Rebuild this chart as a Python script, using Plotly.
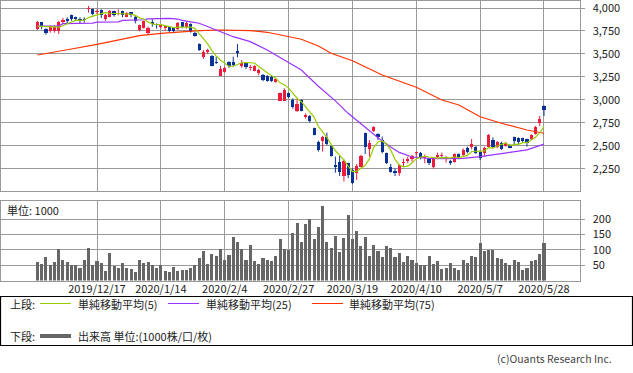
import pandas as pd
import plotly.graph_objects as go

# ---------------- data ----------------
holidays = ["2019-12-31", "2020-01-01", "2020-01-02", "2020-01-03", "2020-01-13",
            "2020-02-11", "2020-02-24", "2020-03-20", "2020-04-29", "2020-05-04",
            "2020-05-05", "2020-05-06"]
dates = [f"{d.year}/{d.month}/{d.day}" for d in
         pd.bdate_range("2019-11-27", "2020-05-28", freq="C", holidays=holidays)]

tick_labels = ["2019/12/17", "2020/1/14", "2020/2/4", "2020/2/27",
               "2020/3/19", "2020/4/10", "2020/5/7", "2020/5/28"]

open_ = [3772, 3844, 3772, 3750, 3750, 3754, 3848, 3877, 3920, 3899,
         3880, 3880, 3986, 3986, 3953, 3978, 3880, 3906, 3967, 3931,
         3967, 3906, 3953, 3906, 3761, 3786, 3732, 3848, 3826, 3797,
         3779, 3797, 3783, 3768, 3844, 3797, 3823, 3732, 3609, 3464,
         3518, 3482, 3409, 3265, 3308, 3413, 3413, 3533, 3370, 3406,
         3344, 3315, 3297, 3272, 3265, 3254, 3196, 2993, 2993, 3073,
         3000, 2884, 3000, 2819, 2826, 2692, 2547, 2558, 2594, 2500,
         2290, 2330, 2174, 2312, 2239, 2203, 2275, 2638, 2471, 2660,
         2631, 2565, 2420, 2268, 2232, 2203, 2312, 2341, 2355, 2420,
         2424, 2370, 2355, 2275, 2384, 2391, 2366, 2333, 2326, 2413,
         2399, 2482, 2493, 2493, 2439, 2420, 2493, 2565, 2493, 2536,
         2500, 2511, 2594, 2583, 2583, 2573, 2573, 2631, 2746, 2935]
high = [3859, 3848, 3779, 3812, 3812, 3859, 3891, 3899, 3928, 3906,
        3899, 3899, 4022, 3993, 3986, 3986, 3935, 3978, 3971, 3986,
        3971, 3957, 3957, 3913, 3819, 3862, 3797, 3877, 3833, 3826,
        3815, 3804, 3790, 3848, 3848, 3848, 3833, 3743, 3616, 3544,
        3558, 3489, 3471, 3370, 3362, 3420, 3471, 3609, 3435, 3413,
        3381, 3377, 3341, 3283, 3272, 3261, 3236, 3080, 3127, 3080,
        3018, 3007, 3007, 2855, 2837, 2699, 2558, 2609, 2645, 2507,
        2384, 2391, 2355, 2319, 2257, 2304, 2406, 2645, 2565, 2714,
        2638, 2602, 2428, 2304, 2257, 2304, 2362, 2384, 2402, 2439,
        2435, 2406, 2366, 2370, 2428, 2428, 2391, 2348, 2420, 2420,
        2475, 2493, 2576, 2500, 2449, 2493, 2631, 2594, 2555, 2547,
        2544, 2522, 2602, 2594, 2591, 2580, 2627, 2717, 2826, 2942]
low = [3761, 3768, 3710, 3732, 3732, 3717, 3826, 3833, 3862, 3859,
       3833, 3841, 3949, 3920, 3935, 3891, 3862, 3899, 3906, 3920,
       3899, 3899, 3899, 3833, 3746, 3775, 3710, 3797, 3775, 3775,
       3750, 3739, 3732, 3761, 3779, 3775, 3732, 3688, 3533, 3446,
       3500, 3366, 3391, 3261, 3297, 3348, 3362, 3464, 3348, 3337,
       3319, 3312, 3268, 3203, 3199, 3196, 3188, 2993, 2993, 3022,
       2906, 2870, 2877, 2797, 2754, 2616, 2439, 2439, 2511, 2384,
       2210, 2174, 2113, 2150, 2087, 2131, 2268, 2413, 2384, 2652,
       2565, 2420, 2304, 2210, 2174, 2174, 2275, 2312, 2330, 2384,
       2355, 2312, 2294, 2257, 2355, 2377, 2319, 2294, 2319, 2355,
       2384, 2420, 2464, 2413, 2348, 2384, 2486, 2475, 2475, 2457,
       2493, 2475, 2522, 2522, 2536, 2493, 2565, 2623, 2717, 2826]
close = [3844, 3797, 3732, 3797, 3790, 3844, 3873, 3855, 3880, 3877,
         3859, 3866, 4000, 3935, 3967, 3924, 3924, 3967, 3924, 3949,
         3924, 3942, 3924, 3862, 3812, 3859, 3786, 3823, 3812, 3815,
         3804, 3750, 3754, 3833, 3797, 3833, 3736, 3696, 3544, 3525,
         3544, 3373, 3399, 3333, 3352, 3370, 3381, 3515, 3406, 3362,
         3355, 3370, 3326, 3217, 3207, 3210, 3225, 3073, 3109, 3029,
         2928, 2957, 2884, 2833, 2768, 2623, 2457, 2594, 2522, 2391,
         2275, 2221, 2333, 2185, 2094, 2286, 2391, 2493, 2536, 2707,
         2594, 2439, 2319, 2221, 2203, 2290, 2330, 2362, 2391, 2435,
         2370, 2391, 2312, 2362, 2399, 2402, 2373, 2312, 2413, 2370,
         2457, 2439, 2522, 2428, 2366, 2475, 2620, 2493, 2547, 2464,
         2536, 2482, 2558, 2547, 2558, 2536, 2620, 2710, 2794, 2891]
volume = [61, 54, 77, 50, 61, 104, 66, 61, 49, 49,
          40, 67, 107, 49, 64, 58, 31, 90, 48, 42,
          58, 41, 38, 29, 67, 58, 61, 49, 41, 49,
          31, 28, 45, 31, 35, 35, 41, 49, 75, 97,
          54, 86, 80, 104, 67, 84, 141, 127, 104, 67,
          117, 64, 54, 74, 67, 64, 80, 136, 104, 100,
          156, 186, 127, 183, 201, 136, 173, 242, 127, 107,
          146, 94, 139, 215, 136, 163, 113, 143, 80, 117,
          97, 77, 113, 107, 77, 90, 61, 80, 67, 58,
          49, 49, 80, 54, 64, 38, 41, 58, 41, 35,
          67, 58, 80, 77, 123, 97, 100, 100, 74, 71,
          58, 51, 67, 61, 35, 41, 64, 67, 87, 123]
ma5 = [3804, 3800, 3797, 3795, 3792, 3792, 3807, 3832, 3848, 3866,
       3869, 3867, 3896, 3907, 3925, 3938, 3950, 3943, 3941, 3938,
       3938, 3941, 3933, 3920, 3893, 3880, 3849, 3828, 3818, 3819,
       3808, 3801, 3787, 3791, 3788, 3793, 3791, 3779, 3721, 3667,
       3609, 3536, 3477, 3435, 3400, 3365, 3367, 3390, 3405, 3407,
       3404, 3402, 3364, 3326, 3295, 3266, 3237, 3186, 3165, 3129,
       3073, 3019, 2981, 2926, 2874, 2813, 2713, 2655, 2593, 2517,
       2448, 2401, 2348, 2281, 2222, 2224, 2258, 2290, 2360, 2483,
       2544, 2554, 2519, 2456, 2355, 2294, 2273, 2281, 2315, 2362,
       2378, 2390, 2380, 2374, 2367, 2373, 2370, 2370, 2380, 2374,
       2385, 2398, 2440, 2443, 2442, 2446, 2482, 2476, 2500, 2520,
       2532, 2504, 2517, 2517, 2536, 2536, 2564, 2594, 2644, 2710]
ma25_idx = [0, 5, 6, 13, 14, 19, 20, 25, 26, 31, 33, 34, 36, 38, 42, 46, 50, 54,
            58, 62, 66, 70, 73, 77, 80, 83, 85, 88, 92, 96, 100, 104, 109, 115, 119]
ma25_val = [3804, 3804, 3830, 3836, 3846, 3850, 3866, 3872, 3882, 3888, 3880, 3866,
            3850, 3834, 3761, 3688, 3634, 3543, 3435, 3326, 3150, 2990, 2855, 2700,
            2590, 2490, 2430, 2380, 2366, 2362, 2366, 2384, 2420, 2457, 2520]
ma75_idx = [0, 4, 8, 14, 19, 24, 29, 34, 38, 43, 48, 50, 54, 59, 62, 66, 69, 74,
            81, 89, 95, 99, 104, 109, 115, 119]
ma75_val = [3489, 3518, 3554, 3605, 3652, 3699, 3725, 3743, 3753, 3761, 3761, 3755,
            3736, 3688, 3660, 3587, 3508, 3427, 3272, 3138, 3000, 2946, 2818, 2747,
            2674, 2638]

assert len(dates) == len(open_) == len(high) == len(low) == len(close) == len(volume) == len(ma5) == 120

# ---------------- styles ----------------
W, H = 633, 373
UP, DOWN = "#ee1c3c", "#0a3296"
C5, C25, C75 = "#99cc00", "#9933ff", "#ff3300"
GRID = "#999999"
FONT = "Noto Sans CJK JP"
TXT = "#222222"


def fx(px):
    return px / W


def fy(py):
    return 1 - py / H


idx = list(range(len(dates)))
tick_idx = [dates.index(t) for t in tick_labels]

up_x, up_base, up_h = [], [], []
dn_x, dn_base, dn_h = [], [], []
for i in idx:
    lo_b, hi_b = min(open_[i], close[i]), max(open_[i], close[i])
    h = max(hi_b - lo_b, 9)
    if close[i] >= open_[i]:
        up_x.append(i); up_base.append(lo_b); up_h.append(h)
    else:
        dn_x.append(i); dn_base.append(lo_b); dn_h.append(h)


def wick(sel):
    xs, ys = [], []
    for i in idx:
        if sel(i):
            xs += [i, i, None]
            ys += [low[i], high[i], None]
    return xs, ys


wu_x, wu_y = wick(lambda i: close[i] >= open_[i])
wd_x, wd_y = wick(lambda i: close[i] < open_[i])

fig = go.Figure()
fig.add_trace(go.Scatter(x=wu_x, y=wu_y, mode="lines", line=dict(color=UP, width=1),
                         hoverinfo="skip", xaxis="x", yaxis="y"))
fig.add_trace(go.Scatter(x=wd_x, y=wd_y, mode="lines", line=dict(color=DOWN, width=1),
                         hoverinfo="skip", xaxis="x", yaxis="y"))
fig.add_trace(go.Bar(x=up_x, y=up_h, base=up_base, width=0.75, marker=dict(color=UP, line=dict(width=0)),
                     xaxis="x", yaxis="y"))
fig.add_trace(go.Bar(x=dn_x, y=dn_h, base=dn_base, width=0.75, marker=dict(color=DOWN, line=dict(width=0)),
                     xaxis="x", yaxis="y"))
fig.add_trace(go.Scatter(x=ma75_idx, y=ma75_val, mode="lines", line=dict(color=C75, width=1.2),
                         xaxis="x", yaxis="y"))
fig.add_trace(go.Scatter(x=ma25_idx, y=ma25_val, mode="lines", line=dict(color=C25, width=1.2),
                         xaxis="x", yaxis="y"))
fig.add_trace(go.Scatter(x=idx, y=ma5, mode="lines", line=dict(color=C5, width=1.2),
                         xaxis="x", yaxis="y"))
fig.add_trace(go.Bar(x=idx, y=volume, width=0.72, marker=dict(color="#666666", line=dict(width=0)),
                     xaxis="x2", yaxis="y2"))

xr = [(0.5 - 37.4) / 4.2571, (579.5 - 37.4) / 4.2571]
common_x = dict(range=xr, tickmode="array", tickvals=tick_idx, ticktext=tick_labels,
                showgrid=True, gridcolor=GRID, gridwidth=1, zeroline=False,
                showline=True, linecolor=GRID, linewidth=1, mirror=True,
                domain=[fx(0.5), fx(579.5)], fixedrange=True, automargin=False)

fig.update_layout(
    width=W, height=H, margin=dict(l=0, r=0, t=0, b=0, pad=0, autoexpand=False),
    paper_bgcolor="white", plot_bgcolor="white",
    showlegend=False, barmode="overlay", bargap=0,
    font=dict(family=FONT, size=11, color=TXT),
    xaxis=dict(**common_x, anchor="y", showticklabels=False, ticks=""),
    yaxis=dict(domain=[fy(190.5), fy(0.5)], range=[2016, 4081.5], side="right",
               tickmode="array", tickvals=[2250, 2500, 2750, 3000, 3250, 3500, 3750, 4000],
               tickformat=",d", ticks="outside", ticklen=4, tickcolor=GRID,
               showgrid=True, gridcolor=GRID, zeroline=False, automargin=False,
               showline=True, linecolor=GRID, mirror=True, anchor="x",
               ticklabeloverflow="allow", fixedrange=True,
               ticklabelstandoff=6, tickfont=dict(size=11, color=TXT)),
    xaxis2=dict(**common_x, anchor="y2", showticklabels=True, ticks="",
                ticklabeloverflow="allow", ticklabelstandoff=-2,
                tickfont=dict(size=11, color=TXT)),
    yaxis2=dict(domain=[fy(280.5), fy(200.5)], range=[0, 261], side="right",
                tickmode="array", tickvals=[50, 100, 150, 200],
                ticks="outside", ticklen=4, tickcolor=GRID, automargin=False,
                showgrid=True, gridcolor=GRID, zeroline=False,
                showline=True, linecolor=GRID, mirror=True, anchor="x2",
                ticklabeloverflow="allow", fixedrange=True,
                ticklabelstandoff=6, tickfont=dict(size=11, color=TXT)),
)

shapes = [
    dict(type="rect", xref="paper", yref="paper", x0=fx(0.5), x1=fx(632.5), y0=fy(345.5), y1=fy(296.5),
         line=dict(color="#000000", width=1.2)),
    dict(type="line", xref="paper", yref="paper", x0=fx(40), x1=fx(71), y0=fy(303.5), y1=fy(303.5),
         line=dict(color=C5, width=1)),
    dict(type="line", xref="paper", yref="paper", x0=fx(168), x1=fx(199), y0=fy(303.5), y1=fy(303.5),
         line=dict(color=C25, width=1)),
    dict(type="line", xref="paper", yref="paper", x0=fx(312), x1=fx(343), y0=fy(303.5), y1=fy(303.5),
         line=dict(color=C75, width=1)),
    dict(type="line", xref="paper", yref="paper", x0=fx(40), x1=fx(71), y0=fy(336), y1=fy(336),
         line=dict(color="#666666", width=4)),
]
fig.update_layout(shapes=shapes)


def note(text, x, y, anchor="left", size=11, color=TXT):
    fig.add_annotation(text=text, xref="paper", yref="paper", x=fx(x), y=fy(y),
                       xanchor=anchor, yanchor="middle", showarrow=False,
                       font=dict(family=FONT, size=size, color=color))


note("単位: 1000", 5, 210)
note("上段:", 8, 304)
note("単純移動平均(5)", 76, 304)
note("単純移動平均(25)", 204, 304)
note("単純移動平均(75)", 347, 304)
note("下段:", 8, 336)
note("出来高 単位:(1000株/口/枚)", 76, 336)
note("(c)Ouants Research Inc.", 614, 358, anchor="right", size=10.5, color="#444444")

fig.write_html("out.html", config={"displayModeBar": False, "staticPlot": True},
               post_script="document.body.style.margin='0';document.body.style.padding='0';")
